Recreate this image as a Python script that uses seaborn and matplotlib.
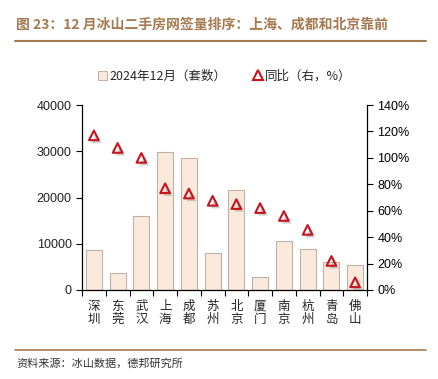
import numpy as np
import pandas as pd
import matplotlib
matplotlib.use("Agg")
import matplotlib.pyplot as plt
import matplotlib.patheffects as pe
from matplotlib.lines import Line2D
from matplotlib.patches import Patch
import seaborn as sns

cities = ["深圳", "东莞", "武汉", "上海", "成都", "苏州", "北京", "厦门", "南京", "杭州", "青岛", "佛山"]
sales = [8600, 3700, 15900, 29800, 28500, 8100, 21600, 2900, 10500, 8800, 6000, 5400]
yoy = [117, 107.5, 100, 77, 73, 67.5, 65, 62, 56, 45.5, 22, 5.8]
bar_label = "2024年12月（套数）"
line_label = "同比（右，%）"
title = "图 23：12 月冰山二手房网签量排序：上海、成都和北京靠前"
source = "资料来源：冰山数据，德邦研究所"

sns.set_theme(style="white")
plt.rcParams['font.family'] = ['Liberation Sans', 'Noto Sans CJK SC', 'DejaVu Sans']
CJK = ['Noto Sans CJK SC', 'DejaVu Sans']

df = pd.DataFrame({"city": cities, "sales": sales, "yoy": yoy})
df["pos"] = np.arange(len(cities))

fig = plt.figure(figsize=(4.38, 3.79), dpi=100)
ax = fig.add_axes([82/438, 1-290/379, (367-82)/438, (290-105)/379])

sns.barplot(data=df, x="city", y="sales", ax=ax, color="#FBE9DB", edgecolor="#BFB2A8",
            linewidth=0.8, width=0.67, saturation=1)
ax.set_ylim(0, 40000)
ax.set_yticks([0, 10000, 20000, 30000, 40000])
ax.set_xlim(-0.5, len(cities)-0.5)
ax.set_xlabel("")
ax.set_ylabel("")
ax.set_xticks(df["pos"])
ax.set_xticklabels(["\n".join(c) for c in cities], family=CJK, fontsize=9, linespacing=1.05)
ax.tick_params(axis="x", length=0, pad=7)
ax.set_xticks(np.arange(-0.5, len(cities), 1.0), minor=True)
ax.tick_params(axis="x", which="minor", length=4, direction="out", width=0.8, color="black", bottom=True)
ax.tick_params(axis="y", length=4, direction="out", width=0.8, labelsize=9, left=True, colors="black")
for lab in ax.get_yticklabels():
    lab.set_color("#222222")
for s in ["top", "right"]:
    ax.spines[s].set_visible(False)
for s in ["left", "bottom"]:
    ax.spines[s].set_color("black")
    ax.spines[s].set_linewidth(0.9)

ax2 = ax.twinx()
sns.scatterplot(data=df, x="pos", y="yoy", ax=ax2, marker="^", s=48, facecolor="none",
                edgecolor="#C8141E", linewidth=1.5, zorder=5,
                path_effects=[pe.SimplePatchShadow(offset=(2, -2), shadow_rgbFace="#777777", alpha=0.35), pe.Normal()])
ax2.set_ylim(0, 140)
ax2.set_yticks(np.arange(0, 141, 20))
ax2.set_yticklabels([f"{v}%" for v in range(0, 141, 20)])
ax2.set_xlim(-0.5, len(cities)-0.5)
ax2.set_ylabel("")
ax2.set_xlabel("")
ax2.tick_params(axis="y", length=4, direction="out", width=0.8, labelsize=9, right=True, colors="black")
for s in ["top", "left", "bottom"]:
    ax2.spines[s].set_visible(False)
ax2.spines["right"].set_color("black")
ax2.spines["right"].set_linewidth(0.9)

handles = [Patch(facecolor="#FBE9DB", edgecolor="#BFB2A8", linewidth=0.8),
           Line2D([], [], marker="^", linestyle="none", markerfacecolor="none",
                  markeredgecolor="#C8141E", markeredgewidth=1.5, markersize=7)]
fig.legend(handles, [bar_label, line_label], loc="center", bbox_to_anchor=(225/438, 1-76/379),
           ncol=2, frameon=False, prop={"family": CJK, "size": 9}, handlelength=0.7,
           handletextpad=0.2, columnspacing=2.2)

fig.text(16/438, 1-25/379, title, family=CJK, fontsize=10, fontweight="bold", color="#A57A50",
         va="center", ha="left")
fig.add_artist(Line2D([15/438, 426/438], [1-41/379, 1-41/379], color="#A57A50", linewidth=1.5))
fig.add_artist(Line2D([15/438, 426/438], [1-350/379, 1-350/379], color="#A57A50", linewidth=1.2))
fig.text(16/438, 1-363/379, source, family=CJK, fontsize=8, color="#333333", va="center", ha="left")

fig.savefig("out.png", dpi=100)
